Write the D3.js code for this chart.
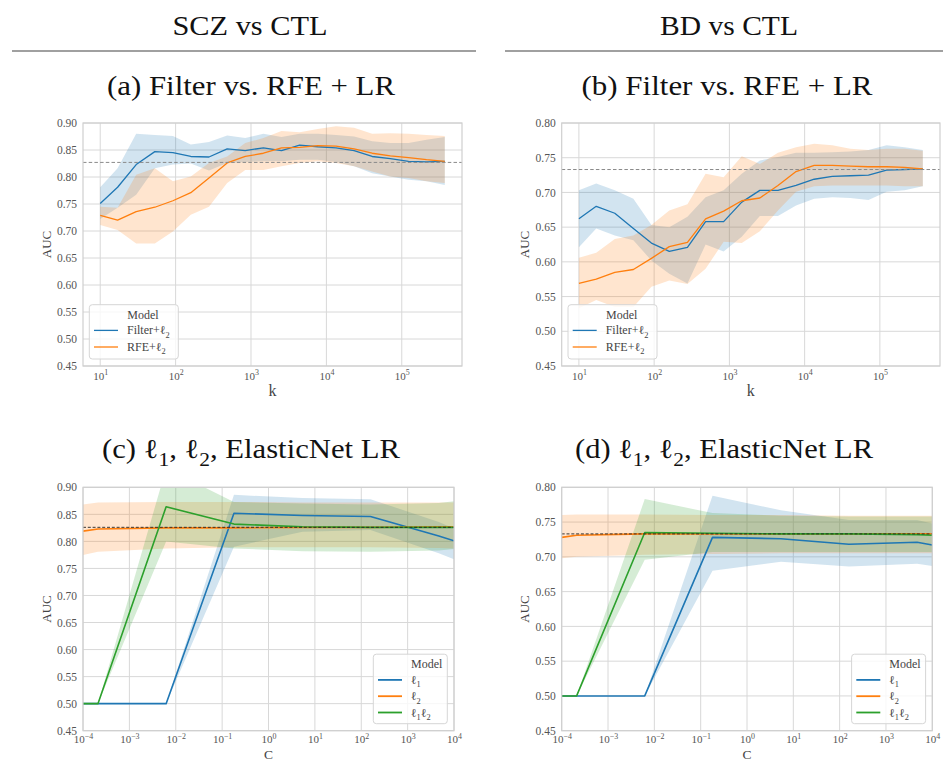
<!DOCTYPE html>
<html><head><meta charset="utf-8">
<script src="https://cdn.jsdelivr.net/npm/d3@7"></script>
<style>body{margin:0;background:#fff}svg{display:block}</style>
</head><body>
<svg id="chart" width="943" height="762"></svg>
<script>
// ---------------- DATA ----------------
const headers = ["SCZ vs CTL", "BD vs CTL"];
const titles = ["(a) Filter vs. RFE + LR", "(b) Filter vs. RFE + LR", "(c) ℓ_1, ℓ_2, ElasticNet LR", "(d) ℓ_1, ℓ_2, ElasticNet LR"];
const legendTitle = "Model";
const kLabels = ["Filter+ℓ_2", "RFE+ℓ_2"];
const cLabels = ["ℓ_1", "ℓ_2", "ℓ_1ℓ_2"];

const kVals = [10, 17, 30, 53, 92, 159, 277, 483, 839, 1460, 2540, 4420, 7690, 13400, 23300, 40500, 70500, 123000, 213000, 372000];
const kTicks = [1e1, 1e2, 1e3, 1e4, 1e5];
const kTickExp = ["1", "2", "3", "4", "5"];
const cVals = [1e-4, 2.1e-4, 6.2e-3, 0.18, 5.4, 158, 4700, 1e4];
const cTicks = [1e-4, 1e-3, 1e-2, 1e-1, 1e0, 1e1, 1e2, 1e3, 1e4];
const cTickExp = ["−4", "−3", "−2", "−1", "0", "1", "2", "3", "4"];
const yTicksSCZ = [0.45, 0.50, 0.55, 0.60, 0.65, 0.70, 0.75, 0.80, 0.85, 0.90];
const yTicksBD = [0.45, 0.50, 0.55, 0.60, 0.65, 0.70, 0.75, 0.80];

// (a) SCZ: Filter vs RFE
const aFilterMean = [0.751, 0.781, 0.823, 0.847, 0.845, 0.838, 0.837, 0.852, 0.849, 0.854, 0.849, 0.859, 0.856, 0.854, 0.849, 0.838, 0.834, 0.829, 0.828, 0.829];
const aFilterLo   = [0.722, 0.743, 0.767, 0.816, 0.823, 0.825, 0.812, 0.826, 0.828, 0.829, 0.829, 0.832, 0.832, 0.828, 0.820, 0.807, 0.801, 0.795, 0.792, 0.785];
const aFilterHi   = [0.781, 0.816, 0.880, 0.878, 0.876, 0.860, 0.865, 0.877, 0.872, 0.880, 0.874, 0.880, 0.880, 0.878, 0.875, 0.866, 0.863, 0.863, 0.869, 0.874];
const aRfeMean    = [0.729, 0.720, 0.736, 0.744, 0.756, 0.771, 0.798, 0.826, 0.838, 0.844, 0.854, 0.855, 0.858, 0.857, 0.852, 0.844, 0.839, 0.836, 0.832, 0.829];
const aRfeLo      = [0.711, 0.702, 0.677, 0.677, 0.699, 0.730, 0.745, 0.789, 0.813, 0.813, 0.820, 0.826, 0.829, 0.826, 0.820, 0.810, 0.801, 0.798, 0.792, 0.789];
const aRfeHi      = [0.745, 0.743, 0.804, 0.816, 0.792, 0.801, 0.826, 0.838, 0.863, 0.872, 0.885, 0.883, 0.889, 0.894, 0.891, 0.880, 0.881, 0.880, 0.878, 0.876];
const aRef = 0.827;

// (b) BD: Filter vs RFE
const bFilterMean = [0.662, 0.680, 0.670, 0.648, 0.627, 0.615, 0.621, 0.658, 0.658, 0.686, 0.703, 0.703, 0.710, 0.719, 0.723, 0.724, 0.725, 0.732, 0.733, 0.734];
const bFilterLo   = [0.621, 0.648, 0.638, 0.631, 0.602, 0.583, 0.569, 0.625, 0.615, 0.636, 0.666, 0.666, 0.681, 0.691, 0.693, 0.692, 0.689, 0.701, 0.703, 0.709];
const bFilterHi   = [0.703, 0.713, 0.703, 0.691, 0.653, 0.650, 0.665, 0.693, 0.703, 0.727, 0.746, 0.751, 0.757, 0.757, 0.758, 0.759, 0.761, 0.768, 0.765, 0.761];
const bRfeMean    = [0.569, 0.575, 0.585, 0.589, 0.605, 0.622, 0.628, 0.662, 0.673, 0.688, 0.692, 0.710, 0.730, 0.739, 0.739, 0.738, 0.737, 0.737, 0.736, 0.734];
const bRfeLo      = [0.533, 0.545, 0.535, 0.535, 0.564, 0.573, 0.568, 0.590, 0.629, 0.627, 0.644, 0.674, 0.701, 0.709, 0.710, 0.710, 0.710, 0.710, 0.709, 0.709];
const bRfeHi      = [0.606, 0.613, 0.633, 0.638, 0.653, 0.674, 0.683, 0.727, 0.722, 0.752, 0.741, 0.757, 0.765, 0.770, 0.768, 0.763, 0.761, 0.763, 0.763, 0.760];
const bRef = 0.733;

// (c) SCZ: l1, l2, ElasticNet
const cL1Mean = [0.500, 0.500, 0.500, 0.852, 0.848, 0.846, 0.810, 0.801];
const cL1Lo   = [0.500, 0.500, 0.500, 0.790, 0.818, 0.821, 0.778, 0.767];
const cL1Hi   = [0.500, 0.500, 0.500, 0.886, 0.880, 0.878, 0.836, 0.824];
const cL2Mean = [0.819, 0.823, 0.825, 0.825, 0.826, 0.826, 0.827, 0.827];
const cL2Lo   = [0.775, 0.781, 0.787, 0.789, 0.789, 0.789, 0.788, 0.787];
const cL2Hi   = [0.868, 0.872, 0.873, 0.873, 0.872, 0.872, 0.872, 0.872];
const cEnMean = [0.500, 0.500, 0.864, 0.832, 0.827, 0.826, 0.826, 0.826];
const cEnLo   = [0.500, 0.500, 0.800, 0.787, 0.782, 0.781, 0.783, 0.786];
const cEnHi   = [0.500, 0.500, 0.935, 0.873, 0.870, 0.868, 0.871, 0.874];
const cRef = 0.826;

// (d) BD: l1, l2, ElasticNet
const dL1Mean = [0.500, 0.500, 0.500, 0.728, 0.726, 0.718, 0.721, 0.717];
const dL1Lo   = [0.500, 0.500, 0.500, 0.680, 0.693, 0.686, 0.690, 0.687];
const dL1Hi   = [0.500, 0.500, 0.500, 0.788, 0.767, 0.753, 0.753, 0.748];
const dL2Mean = [0.728, 0.731, 0.733, 0.733, 0.733, 0.733, 0.733, 0.733];
const dL2Lo   = [0.698, 0.700, 0.703, 0.704, 0.705, 0.705, 0.705, 0.705];
const dL2Hi   = [0.760, 0.761, 0.761, 0.760, 0.760, 0.759, 0.759, 0.759];
const dEnMean = [0.500, 0.500, 0.735, 0.734, 0.733, 0.733, 0.732, 0.731];
const dEnLo   = [0.500, 0.500, 0.696, 0.707, 0.707, 0.707, 0.707, 0.707];
const dEnHi   = [0.500, 0.500, 0.783, 0.763, 0.759, 0.758, 0.758, 0.758];
const dRef = 0.733;

// ---------------- STYLE ----------------
const SERIF = "'Liberation Serif', 'Times New Roman', serif";
const TICK = "#555";
const BLUE = "#1f77b4", ORANGE = "#ff7f0e", GREEN = "#2ca02c";
const svg = d3.select("#chart");

function rich(t, str, fs) {
  // "_X" -> subscript X
  const parts = [];
  const re = /_(\S)/g;
  let last = 0, m;
  while ((m = re.exec(str)) !== null) {
    if (m.index > last) parts.push({t: str.slice(last, m.index)});
    parts.push({t: m[1], sub: true});
    last = re.lastIndex;
  }
  if (last < str.length) parts.push({t: str.slice(last)});
  let off = 0;
  parts.forEach(p => {
    const target = p.sub ? 0.28 * fs : 0;
    const ts = t.append("tspan").text(p.t);
    if (target - off !== 0) ts.attr("dy", target - off);
    if (p.sub) ts.attr("font-size", fs * 0.7);
    off = target;
  });
}

function supText(t, base, exp, fs) {
  t.append("tspan").text(base);
  t.append("tspan").attr("dy", -0.42 * fs).attr("font-size", fs * 0.72).text(exp);
}

// ---------------- HEADERS ----------------
const headerPos = [{cx: 250, x1: 12, x2: 476, len: 155}, {cx: 729, x1: 505, x2: 943, len: 138}];
headers.forEach((h, i) => {
  const p = headerPos[i];
  svg.append("text").attr("x", p.cx).attr("y", 35).attr("text-anchor", "middle")
    .attr("font-family", SERIF).attr("font-size", 27).attr("fill", "#111")
    .attr("textLength", p.len).attr("lengthAdjust", "spacingAndGlyphs").text(h);
  svg.append("line").attr("x1", p.x1).attr("x2", p.x2).attr("y1", 51).attr("y2", 51)
    .attr("stroke", "#808080").attr("stroke-width", 1.4);
});
const titlePos = [{cx: 251, y: 95, len: 288}, {cx: 727, y: 95, len: 291}, {cx: 251, y: 458, len: 298}, {cx: 724, y: 458, len: 298}];
titles.forEach((s, i) => {
  const p = titlePos[i];
  const t = svg.append("text").attr("x", p.cx).attr("y", p.y).attr("text-anchor", "middle")
    .attr("font-family", SERIF).attr("font-size", 27).attr("fill", "#111")
    .attr("textLength", p.len).attr("lengthAdjust", "spacingAndGlyphs");
  rich(t, s, 27);
});

// ---------------- PANELS ----------------
function logPad(vals) {
  const lo = Math.log10(d3.min(vals)), hi = Math.log10(d3.max(vals));
  const pad = 0.05 * (hi - lo);
  return [Math.pow(10, lo - pad), Math.pow(10, hi + pad)];
}

const panels = [
  {id: "a", left: 83, right: 462, top: 123, bottom: 366, yMax: 0.90, yTicks: yTicksSCZ,
   xVals: kVals, xDomain: logPad(kVals), xTicks: kTicks, xExp: kTickExp, xLabel: "k", xLabelDy: 30, xLabelFs: 16, xPad: 6, lw: 1.3,
   ref: aRef, refColor: "#8a8a8a", refDash: "3.5,2.2", refW: 1,
   series: [{c: BLUE, m: aFilterMean, lo: aFilterLo, hi: aFilterHi, label: kLabels[0]},
            {c: ORANGE, m: aRfeMean, lo: aRfeLo, hi: aRfeHi, label: kLabels[1]}],
   leg: {corner: "bl"}},
  {id: "b", left: 561.7, right: 940, top: 123, bottom: 366, yMax: 0.80, yTicks: yTicksBD,
   xVals: kVals, xDomain: logPad(kVals), xTicks: kTicks, xExp: kTickExp, xLabel: "k", xLabelDy: 30, xLabelFs: 16, xPad: 6, lw: 1.3,
   ref: bRef, refColor: "#8a8a8a", refDash: "3.5,2.2", refW: 1,
   series: [{c: BLUE, m: bFilterMean, lo: bFilterLo, hi: bFilterHi, label: kLabels[0]},
            {c: ORANGE, m: bRfeMean, lo: bRfeLo, hi: bRfeHi, label: kLabels[1]}],
   leg: {corner: "bl"}},
  {id: "c", left: 83, right: 454, top: 487.3, bottom: 730.7, yMax: 0.90, yTicks: yTicksSCZ,
   xVals: cVals, xDomain: [1e-4, 1e4], xTicks: cTicks, xExp: cTickExp, xLabel: "C", xLabelDy: 28.3, xLabelFs: 13.5, xPad: 5, lw: 1.6,
   ref: cRef, refColor: "#222", refDash: "3,1.8", refW: 0.9,
   series: [{c: BLUE, m: cL1Mean, lo: cL1Lo, hi: cL1Hi, label: cLabels[0]},
            {c: ORANGE, m: cL2Mean, lo: cL2Lo, hi: cL2Hi, label: cLabels[1]},
            {c: GREEN, m: cEnMean, lo: cEnLo, hi: cEnHi, label: cLabels[2]}],
   leg: {corner: "br"}},
  {id: "d", left: 561.7, right: 932.3, top: 487.3, bottom: 730.7, yMax: 0.80, yTicks: yTicksBD,
   xVals: cVals, xDomain: [1e-4, 1e4], xTicks: cTicks, xExp: cTickExp, xLabel: "C", xLabelDy: 28.3, xLabelFs: 13.5, xPad: 5, lw: 1.6,
   ref: dRef, refColor: "#222", refDash: "3,1.8", refW: 0.9,
   series: [{c: BLUE, m: dL1Mean, lo: dL1Lo, hi: dL1Hi, label: cLabels[0]},
            {c: ORANGE, m: dL2Mean, lo: dL2Lo, hi: dL2Hi, label: cLabels[1]},
            {c: GREEN, m: dEnMean, lo: dEnLo, hi: dEnHi, label: cLabels[2]}],
   leg: {corner: "br"}}
];

panels.forEach(P => {
  const g = svg.append("g");
  const x = d3.scaleLog().domain(P.xDomain).range([P.left, P.right]);
  const y = d3.scaleLinear().domain([0.45, P.yMax]).range([P.bottom, P.top]);

  // grid
  g.selectAll(".gx").data(P.xTicks).join("line")
    .attr("x1", d => x(d)).attr("x2", d => x(d)).attr("y1", P.top).attr("y2", P.bottom)
    .attr("stroke", "#d8d8d8").attr("stroke-width", 1);
  g.selectAll(".gy").data(P.yTicks).join("line")
    .attr("x1", P.left).attr("x2", P.right).attr("y1", d => y(d)).attr("y2", d => y(d))
    .attr("stroke", "#d8d8d8").attr("stroke-width", 1);

  const clipId = "clip-" + P.id;
  svg.append("clipPath").attr("id", clipId).append("rect")
    .attr("x", P.left).attr("y", P.top).attr("width", P.right - P.left).attr("height", P.bottom - P.top);
  const plot = g.append("g").attr("clip-path", `url(#${clipId})`);

  const area = d3.area().x(d => x(d.x)).y0(d => y(d.lo)).y1(d => y(d.hi));
  const line = d3.line().x(d => x(d.x)).y(d => y(d.m));
  P.series.forEach(s => {
    const pts = P.xVals.map((xv, i) => ({x: xv, m: s.m[i], lo: s.lo[i], hi: s.hi[i]}));
    plot.append("path").datum(pts).attr("d", area).attr("fill", s.c).attr("fill-opacity", 0.2).attr("stroke", "none");
  });
  P.series.forEach(s => {
    const pts = P.xVals.map((xv, i) => ({x: xv, m: s.m[i]}));
    plot.append("path").datum(pts).attr("d", line).attr("fill", "none")
      .attr("stroke", s.c).attr("stroke-width", P.lw).attr("stroke-linejoin", "round");
  });
  plot.append("line").attr("x1", P.left).attr("x2", P.right).attr("y1", y(P.ref)).attr("y2", y(P.ref))
    .attr("stroke", P.refColor).attr("stroke-width", P.refW).attr("stroke-dasharray", P.refDash);

  // spines
  g.append("rect").attr("x", P.left).attr("y", P.top).attr("width", P.right - P.left).attr("height", P.bottom - P.top)
    .attr("fill", "none").attr("stroke", "#cfcfcf").attr("stroke-width", 1.2);

  // axes
  const gx = g.append("g").attr("transform", `translate(0,${P.bottom})`)
    .call(d3.axisBottom(x).tickValues(P.xTicks).tickSize(0).tickPadding(P.xPad).tickFormat(() => ""));
  gx.select(".domain").remove();
  gx.selectAll(".tick text").each(function(d, i) {
    const t = d3.select(this).attr("font-family", SERIF).attr("font-size", 11).attr("fill", TICK);
    supText(t, "10", P.xExp[i], 11);
  });
  const gy = g.append("g").attr("transform", `translate(${P.left},0)`)
    .call(d3.axisLeft(y).tickValues(P.yTicks).tickSize(0).tickPadding(6).tickFormat(d3.format(".2f")));
  gy.select(".domain").remove();
  gy.selectAll(".tick text").attr("font-family", SERIF).attr("font-size", 11.5).attr("fill", TICK);

  // axis labels
  g.append("text").attr("x", (P.left + P.right) / 2).attr("y", P.bottom + P.xLabelDy).attr("text-anchor", "middle")
    .attr("font-family", SERIF).attr("font-size", P.xLabelFs).attr("fill", "#444").text(P.xLabel);
  g.append("text").attr("transform", `translate(${P.left - 32.5},${(P.top + P.bottom) / 2}) rotate(-90)`)
    .attr("text-anchor", "middle").attr("font-family", SERIF).attr("font-size", 13).attr("fill", "#444").text("AUC");

  // legend
  const lw = P.leg.corner === "bl" ? 89 : 74;
  const lh = P.leg.corner === "bl" ? 54.3 : 69.5;
  const lx = P.leg.corner === "bl" ? P.left + 6.3 : P.right - 6.7 - lw;
  const ly = P.bottom - 7 - lh;
  const lg = g.append("g");
  lg.append("rect").attr("x", lx).attr("y", ly).attr("width", lw).attr("height", lh).attr("rx", 3)
    .attr("fill", "#fff").attr("fill-opacity", 0.8).attr("stroke", "#d6d6d6").attr("stroke-width", 1);
  const titleCx = P.leg.corner === "bl" ? lx + 53.7 : lx + 53.4;
  lg.append("text").attr("x", titleCx).attr("y", ly + 14).attr("text-anchor", "middle")
    .attr("font-family", SERIF).attr("font-size", 12).attr("fill", "#444").text(legendTitle);
  const rowGap = P.leg.corner === "bl" ? 16.6 : 16.3;
  P.series.forEach((s, i) => {
    const ry = ly + 25.7 + i * rowGap;
    lg.append("line").attr("x1", lx + 4.7).attr("x2", lx + 28.7).attr("y1", ry).attr("y2", ry)
      .attr("stroke", s.c).attr("stroke-width", P.leg.corner === "bl" ? 1.3 : 1.8);
    const t = lg.append("text").attr("x", lx + (P.leg.corner === "bl" ? 37.7 : 37.4)).attr("y", ry + 4)
      .attr("font-family", SERIF).attr("font-size", 12).attr("fill", "#444");
    rich(t, s.label, 12);
  });
});
</script>
</body></html>
